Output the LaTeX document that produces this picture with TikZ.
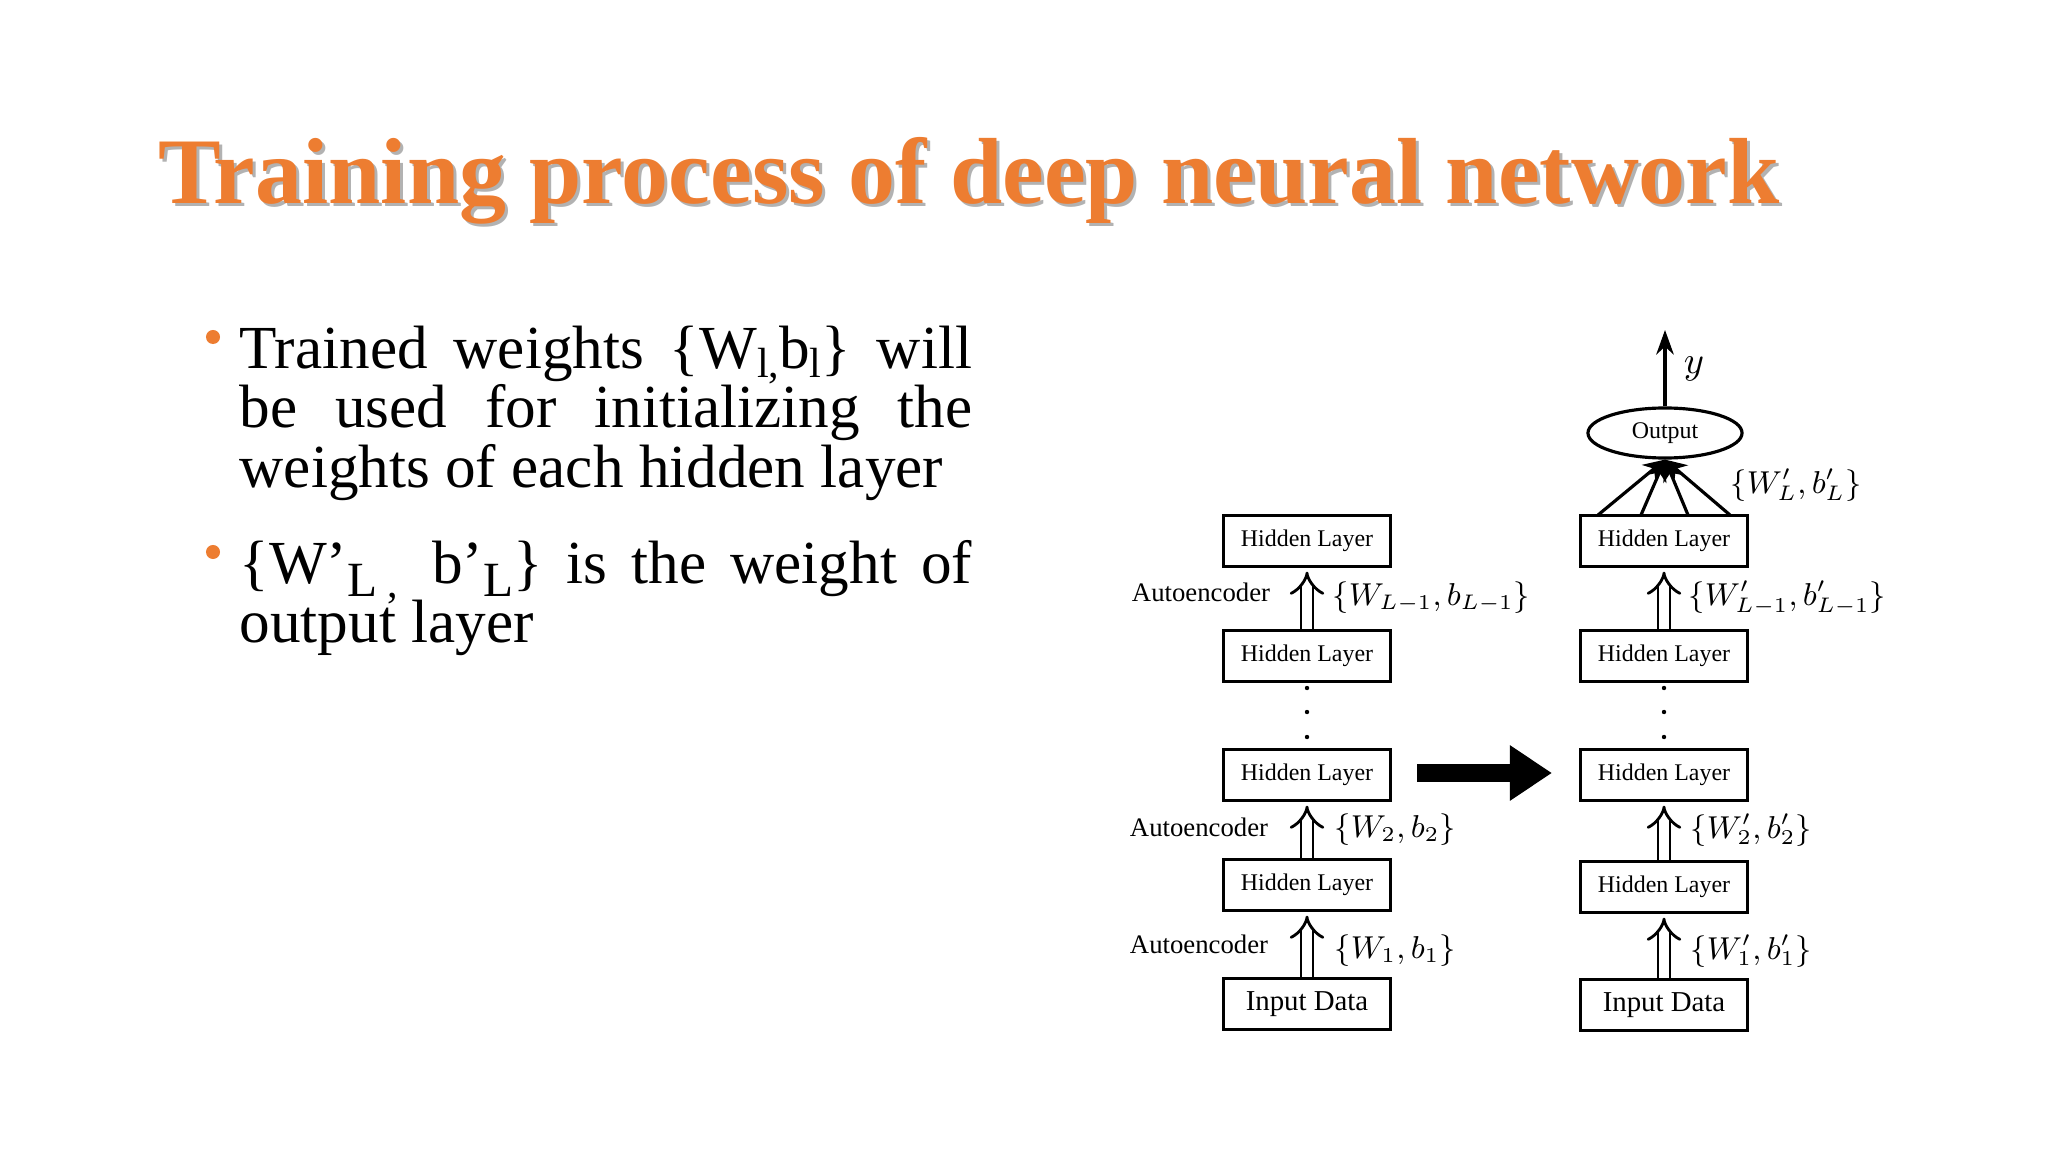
\documentclass[tikz,border=0pt]{standalone}
\usepackage{fontspec}
\setmainfont{Liberation Serif}
\usetikzlibrary{arrows.meta,positioning,shapes.geometric}
\definecolor{slideorange}{RGB}{237,125,49}

\begin{document}
\begin{tikzpicture}[x=0.01cm,y=-0.01cm,
    layer/.style={draw, line width=0.9pt, minimum width=1.67cm, minimum height=0.51cm, inner sep=0pt, font=\fontsize{6.8}{8}\selectfont},
    wlabel/.style={anchor=west, inner sep=0pt, font=\fontsize{8.6}{10}\selectfont},
    aelabel/.style={font=\fontsize{7.6}{9}\selectfont},
    hollow/.style={double, double distance=2.6pt, line width=0.8pt, -{Implies[length=4pt]}, shorten >=1pt}]
    \useasboundingbox (0,0) rectangle (2048,1152);

    % Title
    \node[text=black!30] at (972,184) {\fontsize{26.7}{32}\selectfont\bfseries Training process of deep neural network};
    \node[text=slideorange] (title) at (969,181) {\fontsize{26.7}{32}\selectfont\bfseries Training process of deep neural network};

    % Bullets
    \fill[slideorange] (213,337) circle[radius=0.07cm];
    \node[anchor=north west, text width=7.32cm, align=justify, inner sep=0pt] (first) at (239,325)
        {\fontsize{17.4}{19.6}\selectfont\lineskiplimit=-20pt Trained weights \{W\smash{\raisebox{-0.35ex}{\fontsize{12}{12}\selectfont l,}}b\smash{\raisebox{-0.35ex}{\fontsize{12}{12}\selectfont l}}\} will be used for initializing the weights of each hidden layer};
    \fill[slideorange] (213,552) circle[radius=0.07cm];
    \node[anchor=north west, text width=7.32cm, align=justify, inner sep=0pt] (second) at (239,540)
        {\fontsize{17.4}{19.6}\selectfont\lineskiplimit=-20pt \{W’\smash{\raisebox{-0.45ex}{\fontsize{14}{14}\selectfont L}}\,\smash{\raisebox{-0.5ex}{\fontsize{12}{12}\selectfont ,}}\, b’\smash{\raisebox{-0.45ex}{\fontsize{14}{14}\selectfont L}}\} is the weight of output layer};

    % Left column
    \node[layer] (l5) at (1307,541) {Hidden Layer};
    \node[layer] (l4) at (1307,656) {Hidden Layer};
    \node[layer] (l3) at (1307,775) {Hidden Layer};
    \node[layer] (l2) at (1307,885) {Hidden Layer};
    \node[layer, font=\fontsize{8.2}{9}\selectfont] (l1) at (1307,1004) {Input Data};
    \draw[hollow] (l4) -- (l5);
    \draw[hollow] (l2) -- (l3);
    \draw[hollow] (l1) -- (l2);
    \foreach \y in {688,712,737} \fill (1307,\y) circle[radius=0.022cm];
    \node[aelabel] at (1201,592) {Autoencoder};
    \node[aelabel] at (1199,827) {Autoencoder};
    \node[aelabel] at (1199,944) {Autoencoder};
    \node[wlabel] at (1332,598) {$\{W_{L-1},b_{L-1}\}$};
    \node[wlabel] at (1334,830) {$\{W_{2},b_{2}\}$};
    \node[wlabel] at (1334,951) {$\{W_{1},b_{1}\}$};

    % Right column
    \node[layer] (r5) at (1664,541) {Hidden Layer};
    \node[layer] (r4) at (1664,656) {Hidden Layer};
    \node[layer] (r3) at (1664,775) {Hidden Layer};
    \node[layer] (r2) at (1664,887) {Hidden Layer};
    \node[layer, font=\fontsize{8.2}{9}\selectfont] (r1) at (1664,1005) {Input Data};
    \draw[hollow] (r4) -- (r5);
    \draw[hollow] (r2) -- (r3);
    \draw[hollow] (r1) -- (r2);
    \foreach \y in {688,712,737} \fill (1664,\y) circle[radius=0.022cm];
    \node[wlabel] at (1688,598) {$\{W'_{L-1},b'_{L-1}\}$};
    \node[wlabel] at (1690,830) {$\{W'_{2},b'_{2}\}$};
    \node[wlabel] at (1690,951) {$\{W'_{1},b'_{1}\}$};
    \node[wlabel] at (1730,485) {$\{W'_{L},b'_{L}\}$};

    % Output
    \node[ellipse, draw, line width=0.9pt, minimum width=1.54cm, minimum height=0.5cm, inner sep=0pt,
        font=\fontsize{6.8}{8}\selectfont] (out) at (1665,433) {Output};
    \coordinate (top) at (1665,330);
    \draw[-{Stealth[length=7pt,width=5pt]}, line width=0.9pt] (out) -- (top);
    \node[font=\fontsize{11}{12}\selectfont\itshape] at (1694,369) {$y$};
    \foreach \x in {1598,1641,1688,1730}
        \draw[-{Stealth[length=6pt,width=6pt]}, line width=0.9pt] (\x,515) -- (out.south);

    % Transfer arrow
    \coordinate (from) at (1417,773);
    \coordinate (to) at (1552,773);
    \draw[line width=5pt, -{Triangle[length=12pt,width=15pt]}] (from) -- (to);
\end{tikzpicture}
\end{document}
